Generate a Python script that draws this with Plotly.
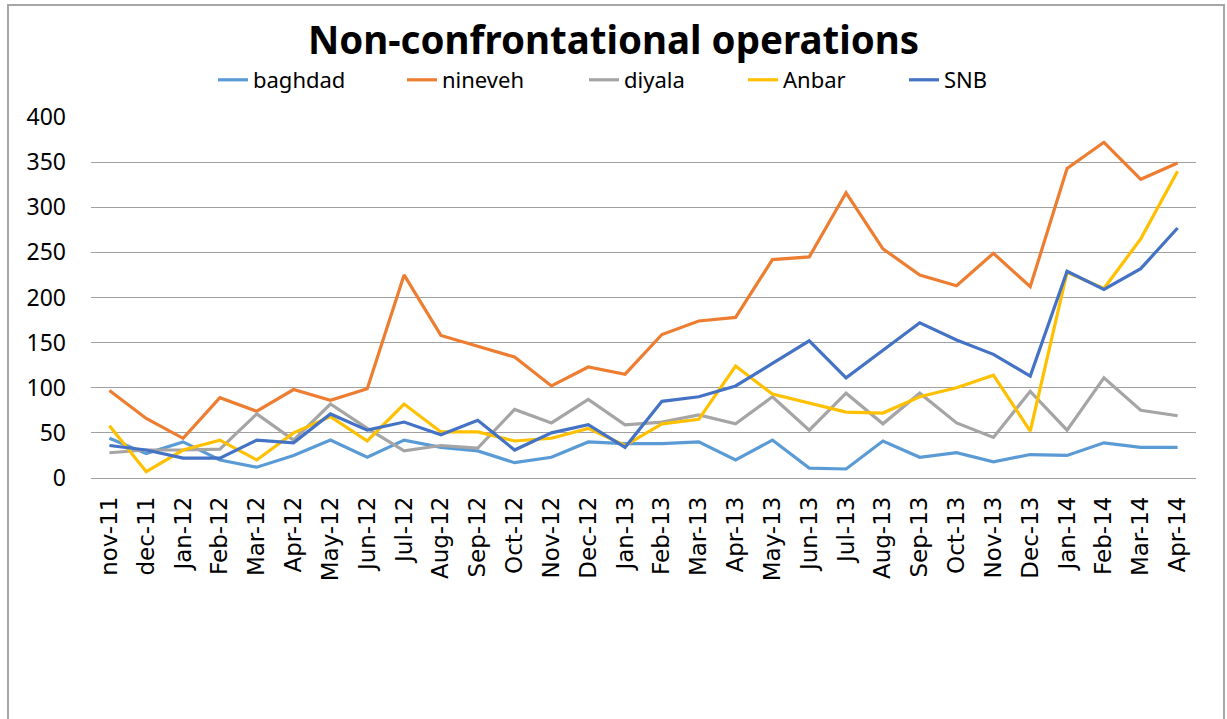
import plotly.graph_objects as go

months = ["nov-11", "dec-11", "Jan-12", "Feb-12", "Mar-12", "Apr-12", "May-12", "Jun-12",
          "Jul-12", "Aug-12", "Sep-12", "Oct-12", "Nov-12", "Dec-12", "Jan-13", "Feb-13",
          "Mar-13", "Apr-13", "May-13", "Jun-13", "Jul-13", "Aug-13", "Sep-13", "Oct-13",
          "Nov-13", "Dec-13", "Jan-14", "Feb-14", "Mar-14", "Apr-14"]

baghdad = [44, 27, 40, 20, 12, 25, 42, 23, 42, 34, 30, 17, 23, 40, 38, 38,
           40, 20, 42, 11, 10, 41, 23, 28, 18, 26, 25, 39, 34, 34]
nineveh = [97, 66, 44, 89, 74, 98, 86, 99, 225, 158, 146, 134, 102, 123, 115, 159,
           174, 178, 242, 245, 316, 254, 225, 213, 249, 212, 343, 372, 331, 349]
diyala = [28, 31, 31, 32, 71, 42, 82, 55, 30, 36, 33, 76, 61, 87, 59, 62,
          70, 60, 90, 53, 94, 60, 94, 61, 45, 96, 53, 111, 75, 69]
anbar = [58, 7, 31, 42, 20, 50, 68, 41, 82, 51, 51, 41, 44, 55, 36, 60,
         65, 124, 93, 83, 73, 72, 90, 100, 114, 52, 228, 210, 265, 340]
snb = [36, 31, 22, 22, 42, 39, 71, 53, 62, 48, 64, 31, 50, 59, 34, 85,
       90, 102, 127, 152, 111, 141, 172, 153, 137, 113, 229, 209, 232, 277]

series = [
    ("baghdad", baghdad, "#5B9BD5", 144),
    ("nineveh", nineveh, "#ED7D31", 137),
    ("diyala", diyala, "#A5A5A5", 114),
    ("Anbar", anbar, "#FFC000", 116),
    ("SNB", snb, "#4472C4", 60),
]

fig = go.Figure()
for name, vals, color, lw in series:
    fig.add_trace(go.Scatter(
        x=months, y=vals, name=name, mode="lines",
        line=dict(color=color, width=3.2),
        legendwidth=lw,
    ))

W, H = 1227, 719
L, R, T, B = 91, 31, 117, 241
pw = W - L - R
ph = H - T - B

def px_x(p):
    return (p - L) / pw

def px_y(p):
    return (H - B - p) / ph

fig.update_layout(
    width=W, height=H,
    margin=dict(l=L, r=R, t=T, b=B, autoexpand=False),
    paper_bgcolor="white", plot_bgcolor="white",
    title=dict(
        text="<b>Non-confrontational operations</b>",
        font=dict(family="Noto Sans", size=38.5, color="#000000"),
        x=0.5, xanchor="center", xref="container",
        y=1 - 41 / H, yanchor="middle", yref="container",
    ),
    legend=dict(
        orientation="h",
        x=px_x(213), xanchor="left",
        y=px_y(80), yanchor="middle",
        font=dict(family="Noto Sans", size=22, color="#000000"),
        bgcolor="rgba(0,0,0,0)",
        traceorder="normal",
    ),
    xaxis=dict(
        type="category",
        range=[-0.5, len(months) - 0.5],
        tickangle=-90,
        tickfont=dict(family="DejaVu Sans", size=23, color="#000000"),
        showgrid=False,
        showline=False,
        ticks="",
        ticklabelstandoff=13,
        zeroline=False,
    ),
    yaxis=dict(
        range=[0, 400],
        dtick=50,
        tickfont=dict(family="Noto Sans", size=23, color="#000000"),
        showgrid=True, gridcolor="#A0A0A0", gridwidth=1,
        zeroline=True, zerolinecolor="#A0A0A0", zerolinewidth=1,
        showline=False,
        ticks="",
        ticklabelstandoff=24,
    ),
    shapes=[dict(
        type="rect", xref="paper", yref="paper",
        x0=px_x(8), x1=px_x(1224), y0=px_y(740), y1=px_y(5),
        line=dict(color="#A6A6A6", width=2), fillcolor="rgba(0,0,0,0)",
        layer="below",
    )],
)

fig.write_html(
    "out.html",
    config={"displayModeBar": False},
    post_script="document.body.style.margin='0';document.body.style.overflow='hidden';",
)
